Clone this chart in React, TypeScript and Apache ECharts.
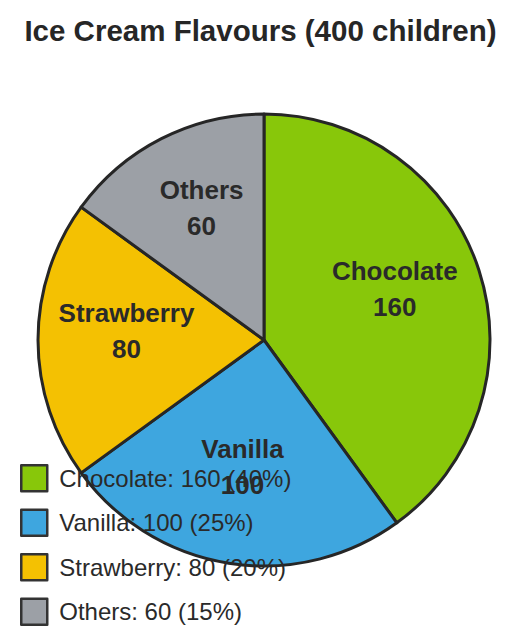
import React, { useEffect, useRef } from "react";
import * as echarts from "echarts";

const categories = ["Chocolate", "Vanilla", "Strawberry", "Others"];
const values = [160, 100, 80, 60];
const colors = ["#88C70A", "#3EA6DF", "#F4C102", "#9CA0A6"];
const titleText = "Ice Cream Flavours (400 children)";

export default function App() {
  const ref = useRef<HTMLDivElement>(null);
  useEffect(() => {
    if (!ref.current) return;
    const chart = echarts.init(ref.current, undefined, { renderer: "svg" });
    const total = values.reduce((a, b) => a + b, 0);
    const data = categories.map((name, i) => ({
      name,
      value: values[i],
      itemStyle: { color: colors[i] },
    }));
    const font = "Liberation Sans, Arial, sans-serif";
    chart.setOption({
      animation: false,
      backgroundColor: "#ffffff",
      title: {
        text: titleText,
        left: "center",
        top: 7,
        padding: 0,
        textStyle: { fontFamily: font, fontSize: 29.5, fontWeight: "bold", color: "#262626" },
      },
      legend: {
        orient: "vertical",
        left: 12,
        top: 456,
        padding: 0,
        height: 170,
        itemWidth: 26,
        itemHeight: 26,
        itemGap: 16,
        icon: "rect",
        itemStyle: { borderColor: "#333333", borderWidth: 2.5 },
        textStyle: { fontFamily: font, fontSize: 24, lineHeight: 26, color: "#2a2a2a", padding: [0, 0, 0, 7] },
        formatter: (name: string) => {
          const i = categories.indexOf(name);
          return `${name}: ${values[i]} (${Math.round((values[i] / total) * 100)}%)`;
        },
        data: categories,
      },
      series: [
        {
          type: "pie",
          center: [256, 332],
          radius: 226,
          startAngle: 90,
          clockwise: true,
          silent: true,
          label: { show: false },
          labelLine: { show: false },
          itemStyle: { borderColor: "#262626", borderWidth: 3 },
          data,
        },
        {
          type: "pie",
          center: [256, 332],
          radius: [43, 226],
          startAngle: 90,
          clockwise: true,
          silent: true,
          z: 3,
          legendHoverLink: false,
          itemStyle: { color: "transparent", borderWidth: 0 },
          label: {
            show: true,
            position: "inside",
            formatter: "{b}\n{c}",
            fontFamily: font,
            fontSize: 26,
            fontWeight: "bold",
            lineHeight: 36,
            color: "#2a2a2a",
            offset: [0, -9],
          },
          labelLine: { show: false },
          data: categories.map((name, i) => ({ name: name, value: values[i] })),
        },
      ],
    });
    return () => chart.dispose();
  }, []);
  return <div ref={ref} style={{ width: 505, height: 628 }} />;
}
